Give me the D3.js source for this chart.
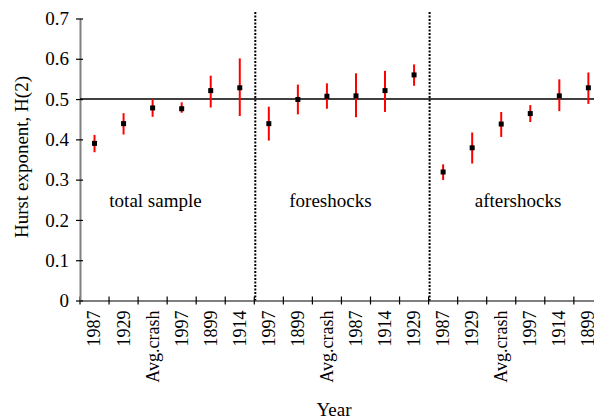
<!DOCTYPE html>
<html>
<head>
<meta charset="utf-8">
<script src="https://cdn.jsdelivr.net/npm/d3@7"></script>
<style>
  body { margin: 0; background: #fff; }
  svg { display: block; }
  text { font-family: "Liberation Serif", "Times New Roman", serif; fill: #000; }
</style>
</head>
<body>
<svg id="chart" width="594" height="419"></svg>
<script>
// categories (x tick labels) in order, three groups of six
const years = ['1987','1929','Avg.crash','1997','1899','1914',
               '1997','1899','Avg.crash','1987','1914','1929',
               '1987','1929','Avg.crash','1997','1914','1899']
const groups = ['total sample', 'foreshocks', 'aftershocks']

// Hurst exponent and error bar ends
const hurst = [0.39, 0.439, 0.478, 0.476, 0.521, 0.528,
               0.439, 0.499, 0.507, 0.508, 0.521, 0.56,
               0.319, 0.379, 0.438, 0.464, 0.508, 0.528]
const errLow = [0.368, 0.412, 0.456, 0.466, 0.479, 0.458,
                0.397, 0.462, 0.476, 0.455, 0.468, 0.533,
                0.299, 0.340, 0.406, 0.443, 0.470, 0.488]
const errHigh = [0.411, 0.465, 0.500, 0.492, 0.558, 0.601,
                 0.481, 0.536, 0.539, 0.564, 0.570, 0.586,
                 0.338, 0.417, 0.468, 0.485, 0.549, 0.566]
const yTicks = [0, 0.1, 0.2, 0.3, 0.4, 0.5, 0.6, 0.7]

const svg = d3.select('#chart')
const plotLeft = 80, plotBottom = 300.5, plotTop = 18.5, step = 29.05

let x = d3.scaleBand()
    .domain(d3.range(years.length))
    .range([plotLeft, plotLeft + step * years.length])
    .padding(0)
let y = d3.scaleLinear().domain([0, 0.7]).range([plotBottom, plotTop])

// x axis: labels at band centres, ticks at band edges
let xAxis = svg.append('g')
    .attr('transform', 'translate(0,' + plotBottom + ')')
    .call(d3.axisBottom(x).tickSize(0).tickFormat(i => years[i]))
xAxis.select('.domain').attr('stroke', '#000').attr('stroke-width', 1.2)
xAxis.selectAll('.tick text')
    .attr('transform', 'rotate(-90)')
    .attr('text-anchor', 'end')
    .attr('x', -10)
    .attr('y', 0)
    .attr('dy', '0.33em')
    .attr('dx', 0)
    .style('font-size', '18px')
    .style('font-family', '"Liberation Serif", serif')
    .attr('fill', '#000')

svg.append('g').selectAll('line')
    .data(d3.range(years.length + 1))
    .join('line')
        .attr('x1', i => i < years.length ? x(i) : x.range()[1])
        .attr('x2', i => i < years.length ? x(i) : x.range()[1])
        .attr('y1', plotBottom - 4)
        .attr('y2', plotBottom + 4)
        .attr('stroke', '#000')
        .attr('stroke-width', 1.2)

// y axis
let yAxis = svg.append('g')
    .attr('transform', 'translate(' + plotLeft + ',0)')
    .call(d3.axisLeft(y).tickValues(yTicks).tickSizeOuter(0).tickSizeInner(4)
        .tickPadding(7).tickFormat(d => d === 0 ? '0' : d3.format('.1f')(d)))
yAxis.select('.domain').attr('stroke', '#808080').attr('stroke-width', 2)
yAxis.selectAll('.tick line').attr('x2', -4).attr('x1', 3).attr('stroke', '#000').attr('stroke-width', 1.2)
yAxis.selectAll('.tick text')
    .style('font-size', '19px')
    .style('font-family', '"Liberation Serif", serif')
    .attr('fill', '#000')

// reference line H = 0.5
svg.append('line')
    .attr('x1', plotLeft).attr('x2', 594)
    .attr('y1', y(0.5)).attr('y2', y(0.5))
    .attr('stroke', '#000')
    .attr('stroke-width', 1.5)

// dotted group separators
svg.append('g').selectAll('line')
    .data([6, 12])
    .join('line')
        .attr('x1', i => x(i) + 1)
        .attr('x2', i => x(i) + 1)
        .attr('y1', 12)
        .attr('y2', plotBottom)
        .attr('stroke', '#000')
        .attr('stroke-width', 2)
        .attr('stroke-dasharray', '2,1.5')

// error bars
svg.append('g').selectAll('line')
    .data(hurst)
    .join('line')
        .attr('x1', (d, i) => x(i) + x.bandwidth() / 2)
        .attr('x2', (d, i) => x(i) + x.bandwidth() / 2)
        .attr('y1', (d, i) => y(errLow[i]))
        .attr('y2', (d, i) => y(errHigh[i]))
        .attr('stroke', '#ff0000')
        .attr('stroke-width', 2)

// points
svg.append('g').selectAll('rect')
    .data(hurst)
    .join('rect')
        .attr('x', (d, i) => x(i) + x.bandwidth() / 2 - 2.5)
        .attr('y', d => y(d) - 2.5)
        .attr('width', 5)
        .attr('height', 5)
        .attr('fill', '#000')

// group names
const groupOffset = [2.6, 2.62, 3.08]
svg.append('g').selectAll('text')
    .data(groups)
    .join('text')
        .attr('x', (d, i) => x(i * 6) + groupOffset[i] * step)
        .attr('y', 207)
        .attr('text-anchor', 'middle')
        .style('font-size', '19px')
        .text(d => d)

// axis titles
svg.append('text')
    .attr('transform', 'translate(28,157) rotate(-90)')
    .attr('text-anchor', 'middle')
    .style('font-size', '19px')
    .text('Hurst exponent, H(2)')

svg.append('text')
    .attr('x', 334)
    .attr('y', 416)
    .attr('text-anchor', 'middle')
    .style('font-size', '19px')
    .text('Year')
</script>
</body>
</html>
